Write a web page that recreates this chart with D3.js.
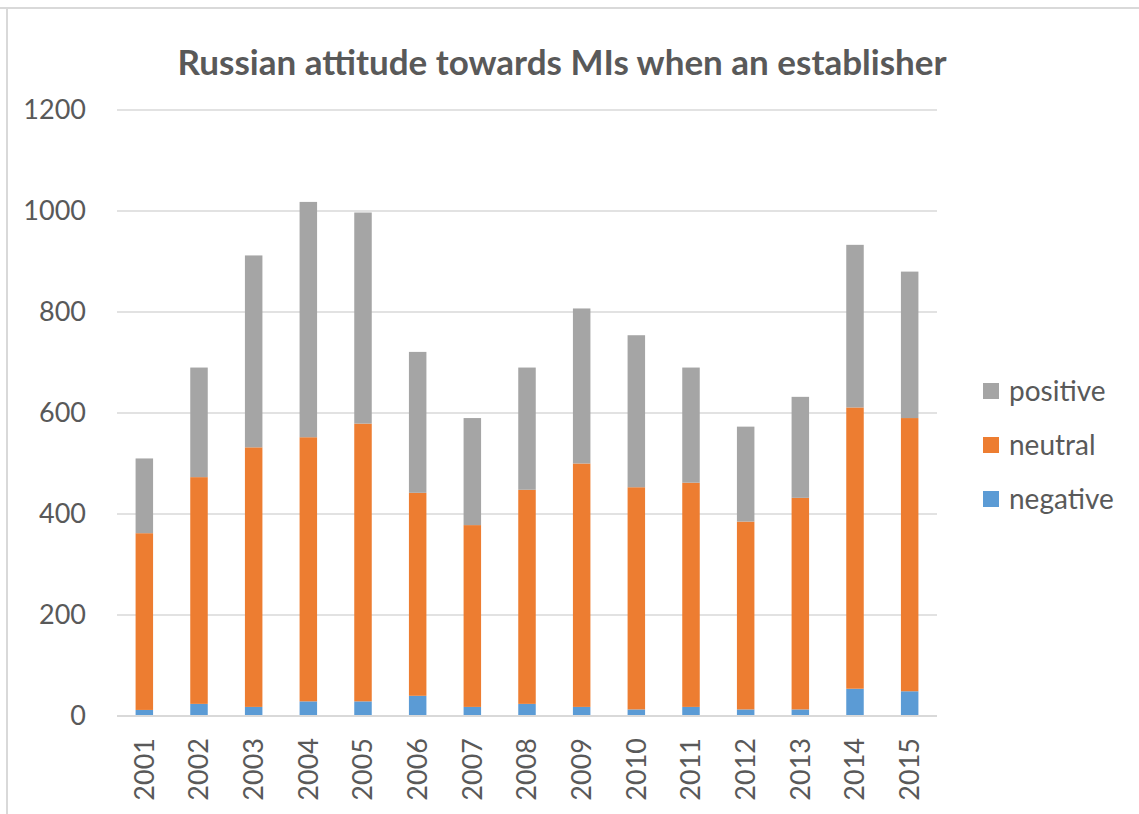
<!DOCTYPE html>
<html>
<head>
<meta charset="utf-8">
<script src="https://cdn.jsdelivr.net/npm/d3@7"></script>
<style>
  html, body { margin: 0; padding: 0; background: #fff; }
  svg { display: block; }
  text { font-family: Lato, "Open Sans", sans-serif; fill: #595959; }
</style>
</head>
<body>
<svg id="chart" width="1139" height="814"></svg>
<script>
// Yearly counts per attitude
const years = ["2001","2002","2003","2004","2005","2006","2007","2008","2009","2010","2011","2012","2013","2014","2015"];
const negative = [12, 24, 18, 29, 29, 40, 18, 24, 18, 13, 18, 13, 13, 54, 49];
const neutral  = [350, 449, 514, 523, 550, 402, 360, 424, 482, 440, 444, 372, 419, 557, 541];
const positive = [148, 217, 380, 466, 418, 279, 212, 242, 307, 301, 228, 188, 200, 322, 290];
const seriesNames = ["negative", "neutral", "positive"];
const seriesColors = ["#5b9bd5", "#ed7d31", "#a5a5a5"];
const yTicks = [0, 200, 400, 600, 800, 1000, 1200];
const title = "Russian attitude towards MIs when an establisher";

const svg = d3.select("#chart");
const W = 1139, H = 814;
const plot = { left: 117, right: 937, top: 110, bottom: 716 };
const FONT = "Lato, 'Open Sans', sans-serif";

// frame lines along the top and left edges
svg.append("line").attr("x1", 0).attr("x2", W).attr("y1", 8).attr("y2", 8)
  .attr("stroke", "#d9d9d9").attr("stroke-width", 2);
svg.append("line").attr("x1", 7).attr("x2", 7).attr("y1", 8).attr("y2", H)
  .attr("stroke", "#d9d9d9").attr("stroke-width", 2);

const rows = years.map((y, i) => ({ year: y, negative: negative[i], neutral: neutral[i], positive: positive[i] }));
const stack = d3.stack().keys(seriesNames)(rows);

const x = d3.scaleBand().domain(years).range([plot.left, plot.right]).paddingInner(0.68).paddingOuter(0.34);
const y = d3.scaleLinear().domain([0, 1200]).range([plot.bottom, plot.top]);
const color = d3.scaleOrdinal().domain(seriesNames).range(seriesColors);

// gridlines
svg.append("g").selectAll("line").data(yTicks.filter(t => t > 0)).join("line")
  .attr("x1", plot.left).attr("x2", plot.right)
  .attr("y1", d => y(d)).attr("y2", d => y(d))
  .attr("stroke", "#d9d9d9").attr("stroke-width", 1.5);

// y axis labels
const yAxis = d3.axisLeft(y).tickValues(yTicks).tickFormat(d3.format("d")).tickSize(0).tickPadding(0);
const gy = svg.append("g").attr("transform", `translate(86,0)`).call(yAxis);
gy.select(".domain").remove();
gy.selectAll("text").attr("font-size", 27).attr("fill", "#595959").style("font-family", FONT);

// stacked bars
svg.append("g").selectAll("g").data(stack).join("g")
  .attr("fill", d => color(d.key))
  .selectAll("rect").data(d => d).join("rect")
  .attr("x", d => x(d.data.year))
  .attr("width", x.bandwidth())
  .attr("y", d => y(d[1]))
  .attr("height", d => y(d[0]) - y(d[1]));

// baseline
svg.append("line").attr("x1", plot.left).attr("x2", plot.right)
  .attr("y1", y(0)).attr("y2", y(0)).attr("stroke", "#d9d9d9").attr("stroke-width", 2);

// x axis labels (rotated)
const xAxis = d3.axisBottom(x).tickSize(0).tickPadding(0);
const gx = svg.append("g").attr("transform", `translate(0,${plot.bottom})`).call(xAxis);
gx.select(".domain").remove();
gx.selectAll("text")
  .attr("font-size", 27).attr("fill", "#595959")
  .style("font-family", FONT)
  .attr("text-anchor", "end")
  .attr("dy", "0.35em")
  .attr("transform", "translate(0,22) rotate(-90)")
  .attr("x", 0).attr("y", 0);

// title
svg.append("text").attr("x", 562).attr("y", 75)
  .attr("text-anchor", "middle").attr("font-size", 35).attr("font-weight", "bold")
  .text(title);

// legend
const legendOrder = ["positive", "neutral", "negative"];
const lg = svg.append("g").selectAll("g").data(legendOrder).join("g")
  .attr("transform", (d, i) => `translate(983,${391 + i * 54})`);
lg.append("rect").attr("x", 0).attr("y", -8).attr("width", 16).attr("height", 16)
  .attr("fill", d => color(d));
lg.append("text").attr("x", 26).attr("y", 0).attr("dy", "0.35em")
  .attr("font-size", 28).text(d => d);
</script>
</body>
</html>
